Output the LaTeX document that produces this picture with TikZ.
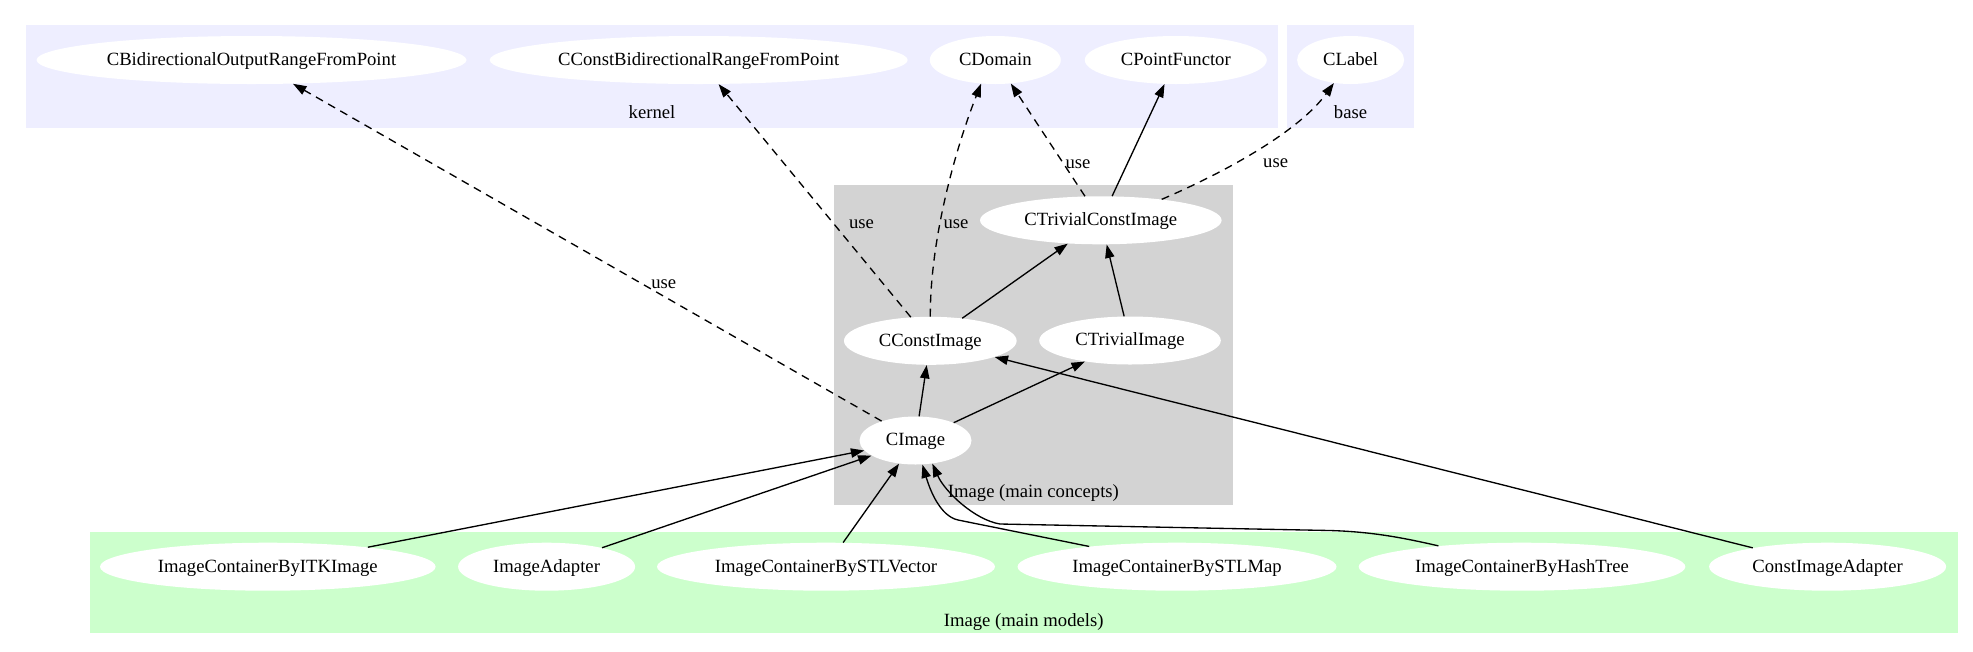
\documentclass[tikz,border=0pt]{standalone}
\usepackage{fontspec}
\setmainfont{Liberation Serif}
\usetikzlibrary{shapes.geometric,arrows.meta}
\definecolor{kernelbg}{HTML}{EEEEFF}
\definecolor{conceptbg}{HTML}{D3D3D3}
\definecolor{modelbg}{HTML}{CCFFCC}
\begin{document}
\begin{tikzpicture}[x=0.75pt,y=-0.75pt,
  font=\fontsize{14}{16.8}\selectfont,
  cls/.style={ellipse, fill=white, draw=none, inner sep=0pt, minimum height=36pt,
              text height=1em, text depth=0.18em},
  lbl/.style={inner sep=0pt, anchor=base},
  dep/.style={-{Triangle[length=10pt,width=7pt]}, line width=1pt},
  usedep/.style={dep, dash pattern=on 6pt off 4.5pt}]
\useasboundingbox (0,0) rectangle (1973,651);
% clusters
\fill[kernelbg] (26,25) rectangle (1278,127.7);
\fill[kernelbg] (1287,25) rectangle (1414,127.7);
\fill[conceptbg] (834,185) rectangle (1232.7,505);
\fill[modelbg] (90,531.7) rectangle (1957.5,633.3);
\node[lbl] (lkernel) at (652,118.3) {kernel};
\node[lbl] (lbase) at (1350.5,118.3) {base};
\node[lbl] (lconcepts) at (1033.4,497) {Image (main concepts)};
\node[lbl] (lmodels) at (1023.7,626) {Image (main models)};
% nodes
\node[cls, minimum width=322.5pt] (cbid) at (251.5,60) {CBidirectionalOutputRangeFromPoint};
\node[cls, minimum width=313.5pt] (ccbid) at (698.7,60) {CConstBidirectionalRangeFromPoint};
\node[cls, minimum width=98.25pt] (cdomain) at (995.3,60) {CDomain};
\node[cls, minimum width=136.5pt] (cpf) at (1175.8,60) {CPointFunctor};
\node[cls, minimum width=80.25pt] (clabel) at (1350.6,60) {CLabel};
\node[cls, minimum width=181.2pt] (ctci) at (1100.8,220.3) {CTrivialConstImage};
\node[cls, minimum width=129.5pt] (cci) at (930.3,340.8) {CConstImage};
\node[cls, minimum width=136.2pt] (cti) at (1130,340.5) {CTrivialImage};
\node[cls, minimum width=84pt] (cimage) at (915.5,440.5) {CImage};
\node[cls, minimum width=251.7pt] (itk) at (267.8,566.7) {ImageContainerByITKImage};
\node[cls, minimum width=132.75pt] (adapter) at (546.6,566.7) {ImageAdapter};
\node[cls, minimum width=253.5pt] (stlvec) at (826,566.7) {ImageContainerBySTLVector};
\node[cls, minimum width=239.25pt] (stlmap) at (1177,566.7) {ImageContainerBySTLMap};
\node[cls, minimum width=245pt] (hash) at (1522,566.7) {ImageContainerByHashTree};
\node[cls, minimum width=177.75pt] (cia) at (1827.6,566.7) {ConstImageAdapter};
% use labels
\node[lbl] (u1) at (663.8,288.3) {use};
\node[lbl] (u2) at (861.5,228.3) {use};
\node[lbl] (u3) at (956,228.3) {use};
\node[lbl] (u4) at (1078,168.3) {use};
\node[lbl] (u5) at (1275.6,167.8) {use};
% edges
\draw[usedep] (cimage) -- (cbid);
\draw[usedep] (cci) -- (ccbid);
\draw[usedep] (cci.north) .. controls (930,240) and (955,150) .. (cdomain.239);
\draw[usedep] (ctci) -- (cdomain);
\draw[dep] (ctci) -- (cpf);
\draw[usedep] (ctci.19) .. controls (1230,170) and (1300,130) .. (clabel.234);
\draw[dep] (cci) -- (ctci);
\draw[dep] (cti) -- (ctci);
\draw[dep] (cimage) -- (cci);
\draw[dep] (cimage) -- (cti);
\draw[dep] (itk) -- (cimage);
\draw[dep] (adapter) -- (cimage);
\draw[dep] (stlvec) -- (cimage);
\draw[dep] (stlmap.167) -- (958,520) .. controls (940,516) and (930,490) .. (cimage.286);
\draw[dep] (hash.166) .. controls (1400,537) and (1370,531.7) .. (1330,530.5) -- (1000,524) .. controls (975,520) and (945,492) .. (cimage.306);
\draw[dep] (cia) -- (cci);
\end{tikzpicture}
\end{document}
